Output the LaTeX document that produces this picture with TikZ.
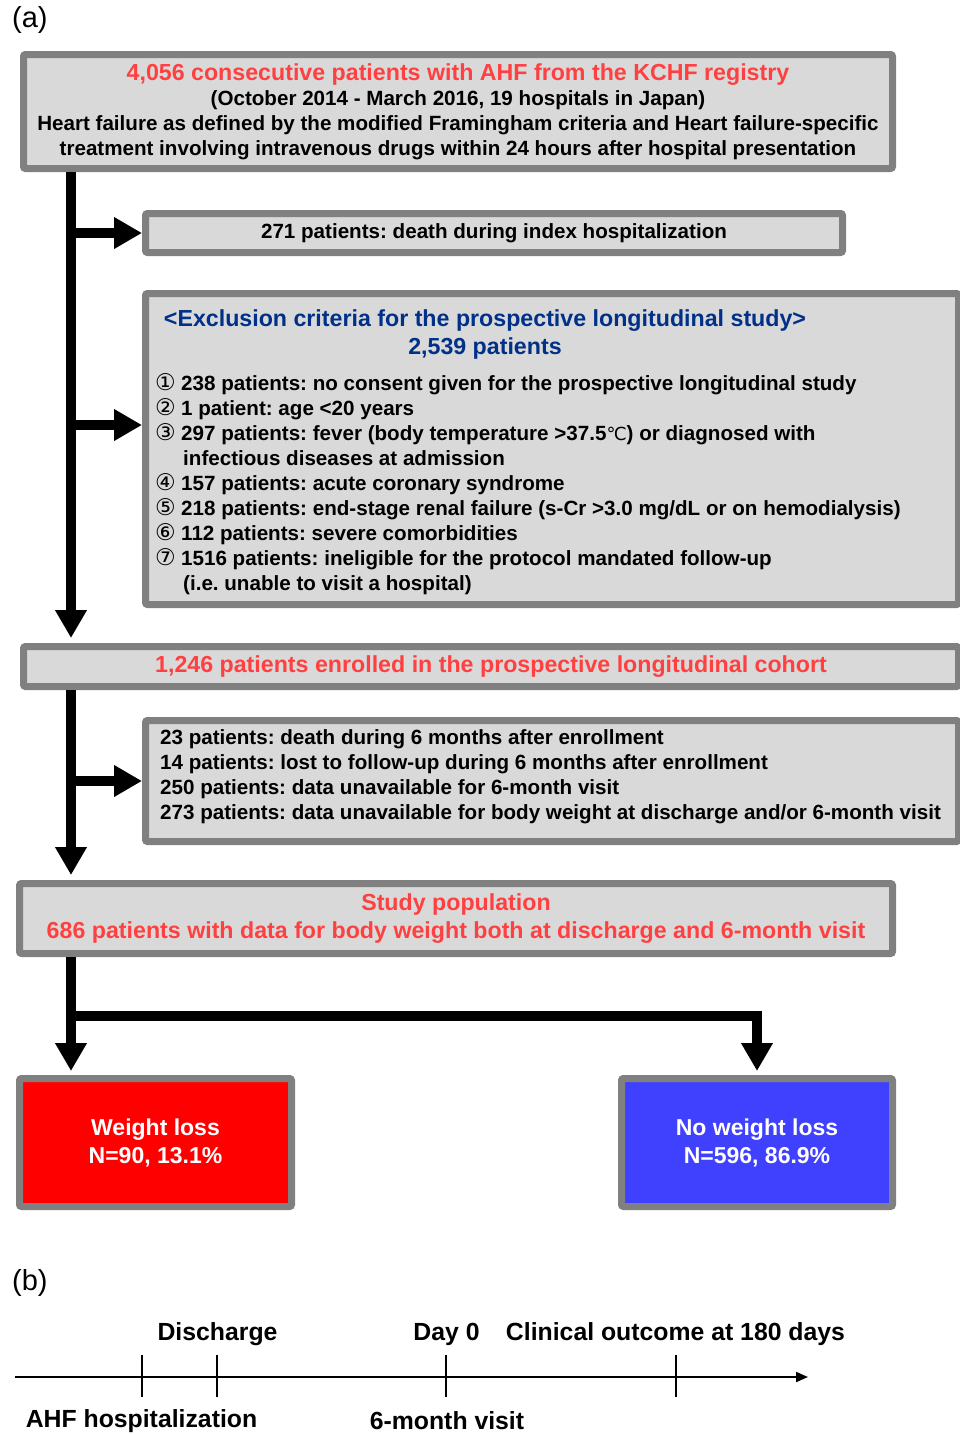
\documentclass[tikz,border=0pt]{standalone}
\usepackage{fontspec}
\setmainfont{Liberation Sans}
\newfontfamily\circfont{DejaVu Sans}
\usetikzlibrary{arrows.meta,positioning}
\definecolor{boxgray}{RGB}{128,128,128}
\definecolor{boxfill}{RGB}{217,217,217}
\definecolor{hfred}{RGB}{255,64,64}
\definecolor{hfnavy}{RGB}{0,48,135}
\definecolor{lossred}{RGB}{255,0,0}
\definecolor{keepblue}{RGB}{64,64,255}
\newcommand{\cnum}[1]{\makebox[26pt][l]{\circfont\mdseries\fontsize{23}{25}\selectfont #1}}
\newcommand{\degc}{{\circfont\mdseries\fontsize{18}{20}\selectfont ℃}}

\begin{document}
\frenchspacing
\begin{tikzpicture}[x=1pt,y=-1pt,font=\fontsize{20.6}{25}\selectfont\bfseries,
  flowbox/.style={draw=boxgray,fill=boxfill,line width=7pt,rounded corners=2pt,inner sep=0pt,align=center},
  titletext/.style={font=\fontsize{23.2}{28}\selectfont\bfseries},
  groupbox/.style={flowbox,fill=#1,text=white,font=\fontsize{23}{28}\selectfont\bfseries},
  flow/.style={line width=10pt,-{Triangle[length=28pt,width=30pt]}},
  timeline/.style={line width=2pt,-{Triangle[length=12pt,width=10pt]}},
  tick/.style={line width=1.5pt},
  tlabel/.style={font=\fontsize{24.8}{28}\selectfont\bfseries,inner sep=0pt},
  panel/.style={font=\fontsize{29}{32}\selectfont\mdseries,inner sep=0pt,anchor=west}]
  \useasboundingbox (0,0) rectangle (959,1435);

  \node[panel] (panela) at (12,20) {(a)};

  % flow chart boxes
  \node[flowbox,minimum width=869pt,minimum height=114pt] (top) at (458,111.5)
    {{\color{hfred}\fontsize{23.2}{25}\selectfont 4,056 consecutive patients with AHF from the KCHF registry}\\
     (October 2014 - March 2016, 19 hospitals in Japan)\\
     Heart failure as defined by the modified Framingham criteria and Heart failure-specific\\
     treatment involving intravenous drugs within 24 hours after hospital presentation};
  \node[flowbox,minimum width=697pt,minimum height=39pt] (death) at (494,233)
    {271 patients: death during index hospitalization};
  \node[flowbox,minimum width=813pt,minimum height=311pt] (excl) at (552,449) {};
  \node[titletext,text=hfnavy,align=center,inner sep=0pt]
    (excltitle) at (485,334) {<Exclusion criteria for the prospective longitudinal study>\\2,539 patients};
  \node[anchor=west,align=left,inner sep=0pt] (excllist) at (155,484.5)
    {\cnum{①}238 patients: no consent given for the prospective longitudinal study\\
     \cnum{②}1 patient: age <20 years\\
     \cnum{③}297 patients: fever (body temperature >37.5\degc) or diagnosed with\\
     \hspace*{28pt}infectious diseases at admission\\
     \cnum{④}157 patients: acute coronary syndrome\\
     \cnum{⑤}218 patients: end-stage renal failure (s-Cr >3.0 mg/dL or on hemodialysis)\\
     \cnum{⑥}112 patients: severe comorbidities\\
     \cnum{⑦}1516 patients: ineligible for the protocol mandated follow-up\\
     \hspace*{28pt}(i.e. unable to visit a hospital)};
  \node[flowbox,titletext,minimum width=935pt,minimum height=40pt,text=hfred]
    (enroll) at (491,666.5) {1,246 patients enrolled in the prospective longitudinal cohort};
  \node[flowbox,minimum width=813pt,minimum height=121pt] (losses) at (552,781) {};
  \node[anchor=west,align=left,inner sep=0pt] (losstext) at (160,776.5)
    {23 patients: death during 6 months after enrollment\\
     14 patients: lost to follow-up during 6 months after enrollment\\
     250 patients: data unavailable for 6-month visit\\
     273 patients: data unavailable for body weight at discharge and/or 6-month visit};
  \node[flowbox,titletext,minimum width=873pt,minimum height=70pt,text=hfred]
    (study) at (456,918.5) {Study population\\686 patients with data for body weight both at discharge and 6-month visit};
  \node[groupbox=lossred,minimum width=272pt,minimum height=128pt] (wl) at (155.5,1142.5) {Weight loss\\N=90, 13.1\%};
  \node[groupbox=keepblue,minimum width=271pt,minimum height=128pt] (nwl) at (757,1142.5) {No weight loss\\N=596, 86.9\%};

  % arrows
  \coordinate (trunk) at (71,0);
  \coordinate (split) at (71,1016);
  \draw[flow] (top.south -| trunk) -- ([yshift=5pt]enroll.north -| trunk);
  \draw[flow] (death.west -| trunk) -- (death.west);
  \draw[flow] ([yshift=24pt]excl.west -| trunk) -- ([yshift=24pt]excl.west);
  \draw[flow] (enroll.south -| trunk) -- ([yshift=5pt]study.north -| trunk);
  \draw[flow] (losses.west -| trunk) -- (losses.west);
  \draw[flow] (study.south -| trunk) -- ([yshift=4pt]wl.north -| trunk);
  \draw[flow] (split) -| ([yshift=4pt]nwl.north);

  \node[panel] (panelb) at (12,1283) {(b)};

  % timeline
  \coordinate (tstart) at (15,1377);
  \coordinate (tend) at (808,1377);
  \coordinate (adm) at (142,1377);
  \coordinate (dis) at (217,1377);
  \coordinate (visit) at (446,1377);
  \coordinate (outcome) at (676,1377);
  \draw[timeline] (tstart) -- (tend);
  \foreach \t in {adm,dis,visit,outcome}
    \draw[tick] ([yshift=22pt]\t) -- ([yshift=-20pt]\t);
  \node[tlabel] (dislbl) at (217.5,1334) {Discharge};
  \node[tlabel] (daylbl) at (446.5,1334) {Day 0};
  \node[tlabel] (outlbl) at (675.5,1334) {Clinical outcome at 180 days};
  \node[tlabel] (admlbl) at (141.5,1421) {AHF hospitalization};
  \node[tlabel] (visitlbl) at (447,1421) {6-month visit};
\end{tikzpicture}
\end{document}
